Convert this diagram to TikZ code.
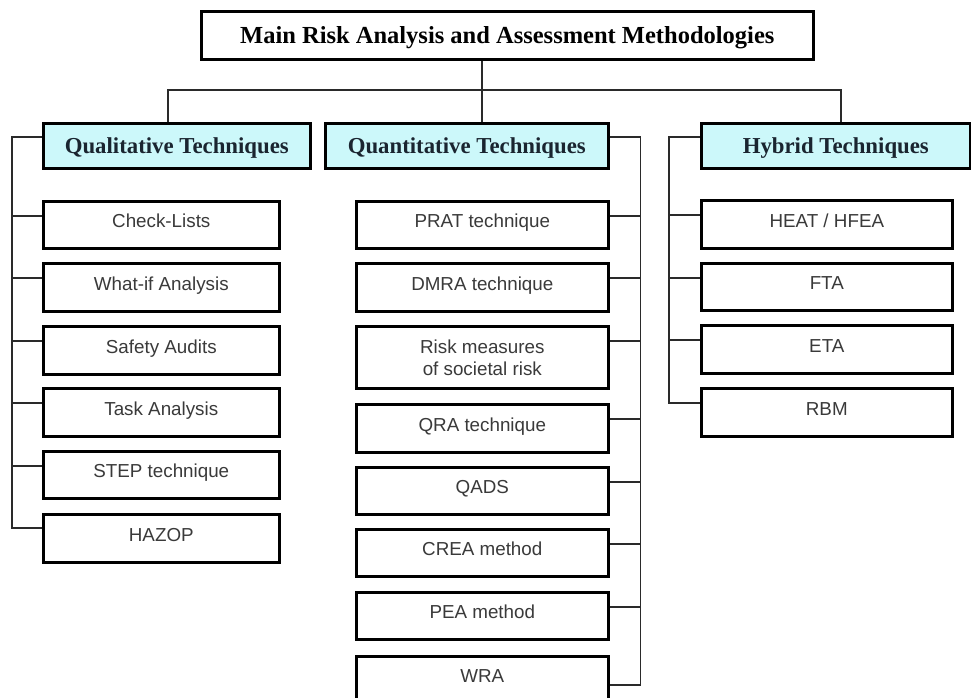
\documentclass[tikz,border=0pt]{standalone}
\usepackage{fontspec}
\setmainfont{Liberation Serif}
\setsansfont{Liberation Sans}
\definecolor{headfill}{HTML}{CCF8FA}
\definecolor{headtext}{HTML}{1A2530}
\definecolor{itemtext}{HTML}{3A3A3A}
\definecolor{wirecol}{HTML}{2A2A2A}
\begin{document}
\begin{tikzpicture}[x=1pt,y=-1pt,
  box/.style={draw=black, line width=2.6pt, inner sep=0pt, anchor=north west, fill=white},
  titlebox/.style={box, font=\fontsize{24.5}{28}\selectfont\bfseries, text=black, text height=16.5pt, text depth=0pt},
  head/.style={box, fill=headfill, font=\fontsize{22.8}{26}\selectfont\bfseries, text=headtext, text height=15pt, text depth=0pt},
  item/.style={box, font=\sffamily\fontsize{18.8}{22}\selectfont, text=itemtext, text height=13.5pt, text depth=8pt},
  itemtwo/.style={box, font=\sffamily\fontsize{18.8}{22}\selectfont, text=itemtext, align=center},
  lcol/.style={item, minimum width=236pt},
  mcol/.style={item, minimum width=252pt},
  hcol/.style={item, minimum width=251pt},
  wire/.style={line width=1.4pt, draw=wirecol}]
\useasboundingbox (0,0) rectangle (971,697);

% title and headers
\node[titlebox, minimum width=612pt, minimum height=48pt] (main) at (200,10) {Main Risk Analysis and Assessment Methodologies};
\node[head, minimum width=267pt, minimum height=45pt] (qual) at (42,122) {Qualitative Techniques};
\node[head, minimum width=283pt, minimum height=45pt] (quant) at (324,122) {Quantitative Techniques};
\node[head, minimum width=269pt, minimum height=45pt] (hyb) at (700,122) {Hybrid Techniques};

% qualitative items
\node[lcol, minimum height=47pt] (CL) at (42,200) {Check-Lists};
\node[lcol, minimum height=48pt] (WI) at (42,262) {What-if Analysis};
\node[lcol, minimum height=48pt] (SA) at (42,325) {Safety Audits};
\node[lcol, minimum height=48pt] (TA) at (42,387) {Task Analysis};
\node[lcol, minimum height=47pt] (ST) at (42,450) {STEP technique};
\node[lcol, minimum height=48pt] (HZ) at (42,513) {HAZOP};

% quantitative items
\node[mcol, minimum height=47pt] (PRAT) at (355,200) {PRAT technique};
\node[mcol, minimum height=48pt] (DMRA) at (355,262) {DMRA technique};
\node[itemtwo, minimum width=252pt, minimum height=62pt] (RM) at (355,325) {Risk measures\\of societal risk};
\node[mcol, minimum height=48pt] (QRA) at (355,403) {QRA technique};
\node[mcol, minimum height=47pt] (QADS) at (355,466) {QADS};
\node[mcol, minimum height=47pt] (CREA) at (355,528) {CREA method};
\node[mcol, minimum height=47pt] (PEA) at (355,591) {PEA method};
\node[mcol, minimum height=47pt] (WRA) at (355,655) {WRA};

% hybrid items
\node[hcol, minimum height=48pt] (HEAT) at (700,199) {HEAT / HFEA};
\node[hcol, minimum height=47pt] (FTA) at (700,262) {FTA};
\node[hcol, minimum height=48pt] (ETA) at (700,324) {ETA};
\node[hcol, minimum height=48pt] (RBM) at (700,387) {RBM};

% top connectors
\coordinate (tap) at (482,90);
\coordinate (jL) at (168,90);
\coordinate (jR) at (841,90);
\draw[wire] (tap |- main.south) -- (tap |- quant.north);
\draw[wire] (jL |- qual.north) -- (jL) -- (jR) -- (jR |- hyb.north);

% qualitative bus
\draw[wire] ([yshift=-15pt]qual.north west) -- ++(-30,0) |- ([yshift=-15pt]HZ.north west);
\foreach \n in {CL,WI,SA,TA,ST}
  \draw[wire] ([yshift=-16pt]\n.north west) -- ++(-30,0);

% quantitative bus
\draw[wire] ([yshift=-15pt]quant.north east) -- ++(31,0) |- ([yshift=-30pt]WRA.north east);
\foreach \n in {PRAT,DMRA,RM,QRA,QADS,CREA,PEA}
  \draw[wire] ([yshift=-16pt]\n.north east) -- ++(31,0);

% hybrid bus
\draw[wire] ([yshift=-15pt]hyb.north west) -- ++(-31,0) |- ([yshift=-16pt]RBM.north west);
\foreach \n in {HEAT,FTA,ETA}
  \draw[wire] ([yshift=-16pt]\n.north west) -- ++(-31,0);
\end{tikzpicture}
\end{document}
